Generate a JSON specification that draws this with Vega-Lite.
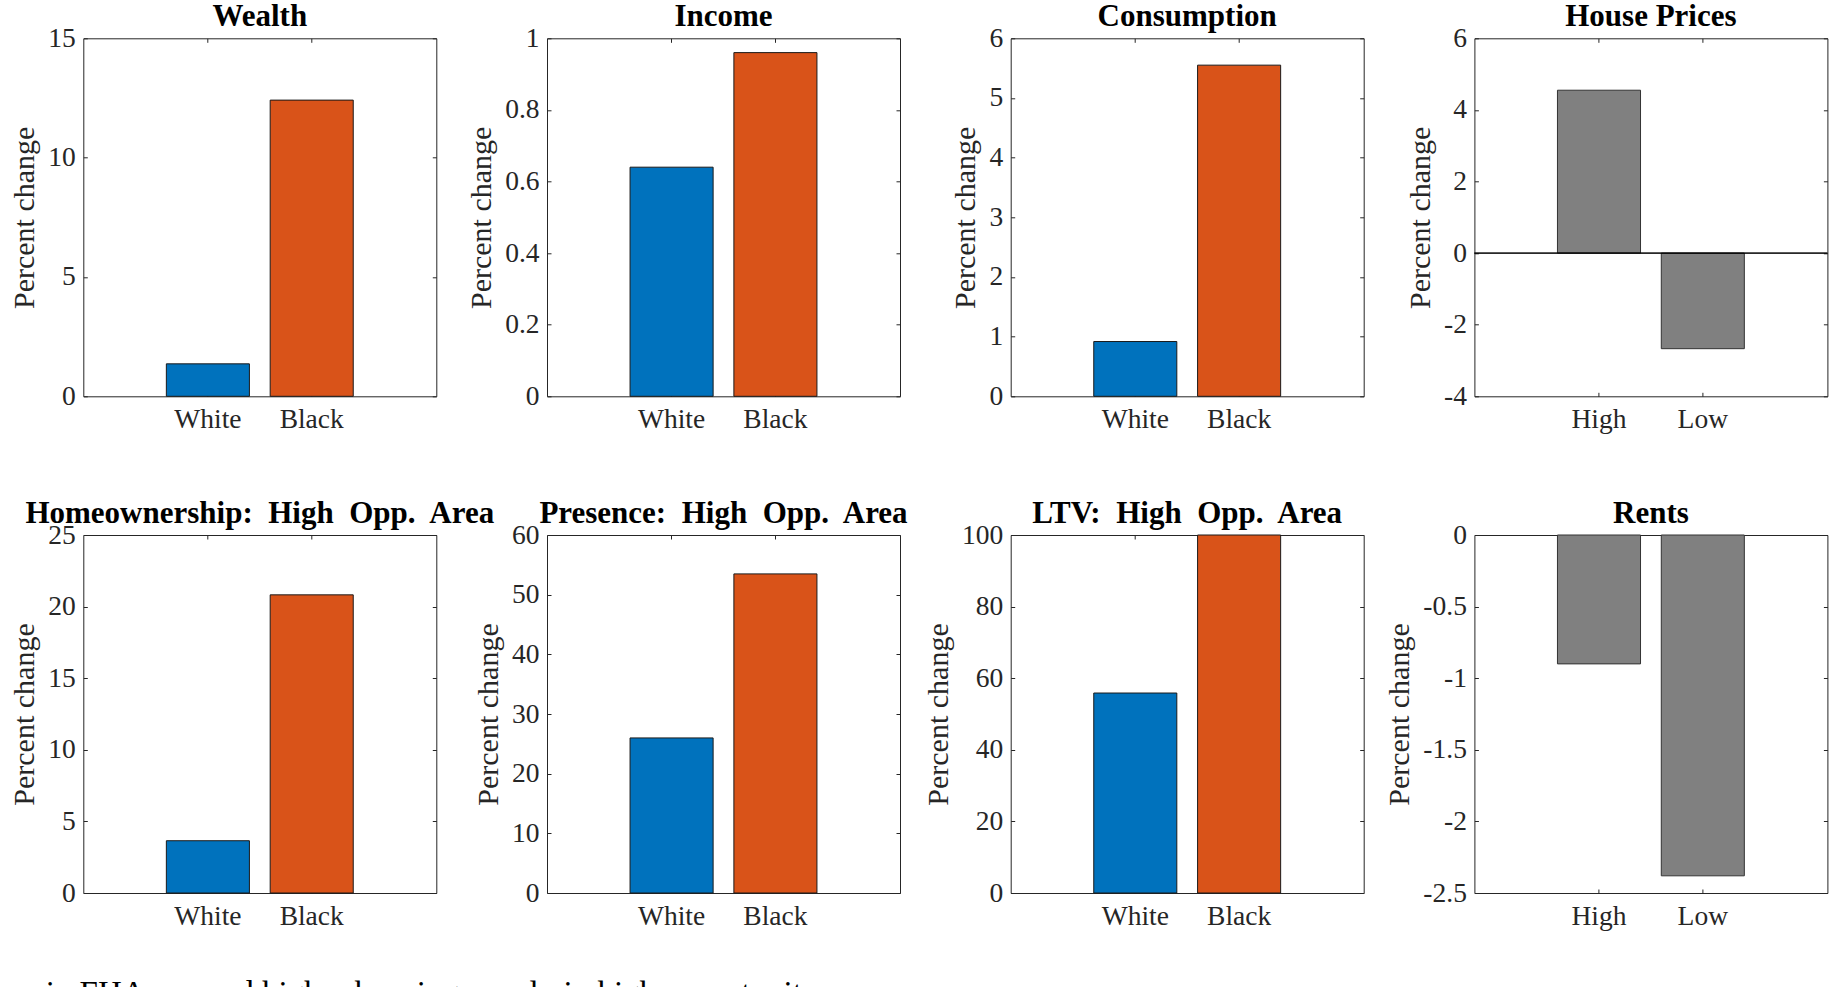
{
  "$schema": "https://vega.github.io/schema/vega-lite/v6.json",
  "autosize": "none",
  "padding": {"left": 83.3, "top": 38.3, "right": 1762.7, "bottom": 948.7},
  "background": "white",
  "data": {
    "values": [
      {"panel": "Wealth", "group": "White", "value": 1.36},
      {"panel": "Wealth", "group": "Black", "value": 12.41},
      {"panel": "Income", "group": "White", "value": 0.64},
      {"panel": "Income", "group": "Black", "value": 0.96},
      {"panel": "Consumption", "group": "White", "value": 0.918},
      {"panel": "Consumption", "group": "Black", "value": 5.55},
      {"panel": "House Prices", "group": "High", "value": 4.55},
      {"panel": "House Prices", "group": "Low", "value": -2.67},
      {"panel": "Homeownership", "group": "White", "value": 3.65},
      {"panel": "Homeownership", "group": "Black", "value": 20.82},
      {"panel": "Presence", "group": "White", "value": 25.99},
      {"panel": "Presence", "group": "Black", "value": 53.48},
      {"panel": "LTV", "group": "White", "value": 55.86},
      {"panel": "LTV", "group": "Black", "value": 100},
      {"panel": "Rents", "group": "High", "value": -0.9},
      {"panel": "Rents", "group": "Low", "value": -2.38}
    ]
  },
  "title": {
    "text": "increase in FHA cap and higher housing supply in high opportunity areas.",
    "orient": "bottom",
    "anchor": "start",
    "frame": "group",
    "font": "Liberation Serif",
    "fontSize": 33,
    "fontWeight": "normal",
    "color": "#000000",
    "baseline": "alphabetic",
    "dx": -154,
    "dy": 0,
    "offset": 74
  },
  "columns": 4,
  "spacing": {"row": 138.7, "column": 110.7},
  "bounds": "flush",
  "concat": [
    {
      "width": 353, "height": 358, "title": "Wealth",
      "transform": [{"filter": "datum.panel === 'Wealth'"}],
      "layer": [
        {"mark": {"type": "bar", "stroke": "#1a1a1a", "strokeWidth": 1},
         "encoding": {
           "x": {"field": "group", "type": "nominal", "sort": null, "scale": {"paddingInner": 0.2, "paddingOuter": 0.8}, "axis": {"orient": "bottom", "title": null}},
           "y": {"field": "value", "type": "quantitative", "scale": {"domain": [0, 15], "nice": false, "zero": false}, "axis": {"orient": "left", "title": "Percent change", "values": [0, 5, 10, 15], "labelExpr": "'' + datum.value"}},
           "color": {"field": "group", "type": "nominal", "scale": {"domain": ["White", "Black", "High", "Low"], "range": ["#0072BD", "#D95319", "#808080", "#808080"]}, "legend": null}}},
        {"mark": {"type": "bar", "opacity": 0},
         "encoding": {
           "x": {"field": "group", "type": "nominal", "sort": null, "axis": {"orient": "top", "title": null, "labels": false}},
           "y": {"field": "value", "type": "quantitative", "axis": {"orient": "right", "title": null, "labels": false, "values": [0, 5, 10, 15]}}}}
      ]
    },
    {
      "width": 353, "height": 358, "title": "Income",
      "transform": [{"filter": "datum.panel === 'Income'"}],
      "layer": [
        {"mark": {"type": "bar", "stroke": "#1a1a1a", "strokeWidth": 1},
         "encoding": {
           "x": {"field": "group", "type": "nominal", "sort": null, "scale": {"paddingInner": 0.2, "paddingOuter": 0.8}, "axis": {"orient": "bottom", "title": null}},
           "y": {"field": "value", "type": "quantitative", "scale": {"domain": [0, 1], "nice": false, "zero": false}, "axis": {"orient": "left", "title": "Percent change", "values": [0, 0.2, 0.4, 0.6, 0.8, 1], "labelExpr": "'' + datum.value"}},
           "color": {"field": "group", "type": "nominal", "scale": {"domain": ["White", "Black", "High", "Low"], "range": ["#0072BD", "#D95319", "#808080", "#808080"]}, "legend": null}}},
        {"mark": {"type": "bar", "opacity": 0},
         "encoding": {
           "x": {"field": "group", "type": "nominal", "sort": null, "axis": {"orient": "top", "title": null, "labels": false}},
           "y": {"field": "value", "type": "quantitative", "axis": {"orient": "right", "title": null, "labels": false, "values": [0, 0.2, 0.4, 0.6, 0.8, 1]}}}}
      ]
    },
    {
      "width": 353, "height": 358, "title": "Consumption",
      "transform": [{"filter": "datum.panel === 'Consumption'"}],
      "layer": [
        {"mark": {"type": "bar", "stroke": "#1a1a1a", "strokeWidth": 1},
         "encoding": {
           "x": {"field": "group", "type": "nominal", "sort": null, "scale": {"paddingInner": 0.2, "paddingOuter": 0.8}, "axis": {"orient": "bottom", "title": null}},
           "y": {"field": "value", "type": "quantitative", "scale": {"domain": [0, 6], "nice": false, "zero": false}, "axis": {"orient": "left", "title": "Percent change", "values": [0, 1, 2, 3, 4, 5, 6], "labelExpr": "'' + datum.value"}},
           "color": {"field": "group", "type": "nominal", "scale": {"domain": ["White", "Black", "High", "Low"], "range": ["#0072BD", "#D95319", "#808080", "#808080"]}, "legend": null}}},
        {"mark": {"type": "bar", "opacity": 0},
         "encoding": {
           "x": {"field": "group", "type": "nominal", "sort": null, "axis": {"orient": "top", "title": null, "labels": false}},
           "y": {"field": "value", "type": "quantitative", "axis": {"orient": "right", "title": null, "labels": false, "values": [0, 1, 2, 3, 4, 5, 6]}}}}
      ]
    },
    {
      "width": 353, "height": 358, "title": "House Prices",
      "transform": [{"filter": "datum.panel === 'House Prices'"}],
      "layer": [
        {"mark": {"type": "bar", "stroke": "#333333", "strokeWidth": 1},
         "encoding": {
           "x": {"field": "group", "type": "nominal", "sort": null, "scale": {"paddingInner": 0.2, "paddingOuter": 0.8}, "axis": {"orient": "bottom", "title": null}},
           "y": {"field": "value", "type": "quantitative", "scale": {"domain": [-4, 6], "nice": false, "zero": false}, "axis": {"orient": "left", "title": "Percent change", "values": [-4, -2, 0, 2, 4, 6], "labelExpr": "'' + datum.value"}},
           "color": {"field": "group", "type": "nominal", "scale": {"domain": ["White", "Black", "High", "Low"], "range": ["#0072BD", "#D95319", "#808080", "#808080"]}, "legend": null}}},
        {"mark": {"type": "rule", "color": "#000000", "strokeWidth": 1},
         "encoding": {"y": {"datum": 0, "type": "quantitative", "axis": null}}},
        {"mark": {"type": "bar", "opacity": 0},
         "encoding": {
           "x": {"field": "group", "type": "nominal", "sort": null, "axis": {"orient": "top", "title": null, "labels": false}},
           "y": {"field": "value", "type": "quantitative", "axis": {"orient": "right", "title": null, "labels": false, "values": [-4, -2, 0, 2, 4, 6]}}}}
      ]
    },
    {
      "width": 353, "height": 358, "title": "Homeownership:\u00a0 High\u00a0 Opp.\u00a0 Area",
      "transform": [{"filter": "datum.panel === 'Homeownership'"}],
      "layer": [
        {"mark": {"type": "bar", "stroke": "#1a1a1a", "strokeWidth": 1},
         "encoding": {
           "x": {"field": "group", "type": "nominal", "sort": null, "scale": {"paddingInner": 0.2, "paddingOuter": 0.8}, "axis": {"orient": "bottom", "title": null}},
           "y": {"field": "value", "type": "quantitative", "scale": {"domain": [0, 25], "nice": false, "zero": false}, "axis": {"orient": "left", "title": "Percent change", "values": [0, 5, 10, 15, 20, 25], "labelExpr": "'' + datum.value"}},
           "color": {"field": "group", "type": "nominal", "scale": {"domain": ["White", "Black", "High", "Low"], "range": ["#0072BD", "#D95319", "#808080", "#808080"]}, "legend": null}}},
        {"mark": {"type": "bar", "opacity": 0},
         "encoding": {
           "x": {"field": "group", "type": "nominal", "sort": null, "axis": {"orient": "top", "title": null, "labels": false}},
           "y": {"field": "value", "type": "quantitative", "axis": {"orient": "right", "title": null, "labels": false, "values": [0, 5, 10, 15, 20, 25]}}}}
      ]
    },
    {
      "width": 353, "height": 358, "title": "Presence:\u00a0 High\u00a0 Opp.\u00a0 Area",
      "transform": [{"filter": "datum.panel === 'Presence'"}],
      "layer": [
        {"mark": {"type": "bar", "stroke": "#1a1a1a", "strokeWidth": 1},
         "encoding": {
           "x": {"field": "group", "type": "nominal", "sort": null, "scale": {"paddingInner": 0.2, "paddingOuter": 0.8}, "axis": {"orient": "bottom", "title": null}},
           "y": {"field": "value", "type": "quantitative", "scale": {"domain": [0, 60], "nice": false, "zero": false}, "axis": {"orient": "left", "title": "Percent change", "values": [0, 10, 20, 30, 40, 50, 60], "labelExpr": "'' + datum.value"}},
           "color": {"field": "group", "type": "nominal", "scale": {"domain": ["White", "Black", "High", "Low"], "range": ["#0072BD", "#D95319", "#808080", "#808080"]}, "legend": null}}},
        {"mark": {"type": "bar", "opacity": 0},
         "encoding": {
           "x": {"field": "group", "type": "nominal", "sort": null, "axis": {"orient": "top", "title": null, "labels": false}},
           "y": {"field": "value", "type": "quantitative", "axis": {"orient": "right", "title": null, "labels": false, "values": [0, 10, 20, 30, 40, 50, 60]}}}}
      ]
    },
    {
      "width": 353, "height": 358, "title": "LTV:\u00a0 High\u00a0 Opp.\u00a0 Area",
      "transform": [{"filter": "datum.panel === 'LTV'"}],
      "layer": [
        {"mark": {"type": "bar", "stroke": "#1a1a1a", "strokeWidth": 1},
         "encoding": {
           "x": {"field": "group", "type": "nominal", "sort": null, "scale": {"paddingInner": 0.2, "paddingOuter": 0.8}, "axis": {"orient": "bottom", "title": null}},
           "y": {"field": "value", "type": "quantitative", "scale": {"domain": [0, 100], "nice": false, "zero": false}, "axis": {"orient": "left", "title": "Percent change", "values": [0, 20, 40, 60, 80, 100], "labelExpr": "'' + datum.value"}},
           "color": {"field": "group", "type": "nominal", "scale": {"domain": ["White", "Black", "High", "Low"], "range": ["#0072BD", "#D95319", "#808080", "#808080"]}, "legend": null}}},
        {"mark": {"type": "bar", "opacity": 0},
         "encoding": {
           "x": {"field": "group", "type": "nominal", "sort": null, "axis": {"orient": "top", "title": null, "labels": false}},
           "y": {"field": "value", "type": "quantitative", "axis": {"orient": "right", "title": null, "labels": false, "values": [0, 20, 40, 60, 80, 100]}}}}
      ]
    },
    {
      "width": 353, "height": 358, "title": "Rents",
      "transform": [{"filter": "datum.panel === 'Rents'"}],
      "layer": [
        {"mark": {"type": "bar", "stroke": "#333333", "strokeWidth": 1},
         "encoding": {
           "x": {"field": "group", "type": "nominal", "sort": null, "scale": {"paddingInner": 0.2, "paddingOuter": 0.8}, "axis": {"orient": "bottom", "title": null}},
           "y": {"field": "value", "type": "quantitative", "scale": {"domain": [-2.5, 0], "nice": false, "zero": false}, "axis": {"orient": "left", "title": "Percent change", "values": [-2.5, -2, -1.5, -1, -0.5, 0], "labelExpr": "'' + datum.value"}},
           "color": {"field": "group", "type": "nominal", "scale": {"domain": ["White", "Black", "High", "Low"], "range": ["#0072BD", "#D95319", "#808080", "#808080"]}, "legend": null}}},
        {"mark": {"type": "bar", "opacity": 0},
         "encoding": {
           "x": {"field": "group", "type": "nominal", "sort": null, "axis": {"orient": "top", "title": null, "labels": false}},
           "y": {"field": "value", "type": "quantitative", "axis": {"orient": "right", "title": null, "labels": false, "values": [-2.5, -2, -1.5, -1, -0.5, 0]}}}}
      ]
    }
  ],
  "config": {
    "view": {"stroke": "#262626", "strokeWidth": 1},
    "axis": {
      "domain": false,
      "grid": false,
      "zindex": 1,
      "ticks": true,
      "tickSize": -4,
      "tickWidth": 1,
      "tickColor": "#262626",
      "labelFont": "Liberation Serif",
      "labelFontSize": 27.5,
      "labelColor": "#262626",
      "titleFont": "Liberation Serif",
      "titleFontSize": 30,
      "titleFontWeight": "normal",
      "titleColor": "#262626"
    },
    "axisX": {"labelAngle": 0, "labelPadding": 13},
    "axisY": {"labelPadding": 12, "titlePadding": 8},
    "title": {
      "font": "Liberation Serif",
      "fontSize": 31,
      "fontWeight": "bold",
      "color": "#000000",
      "baseline": "alphabetic",
      "offset": 13,
      "dy": 22
    }
  }
}
